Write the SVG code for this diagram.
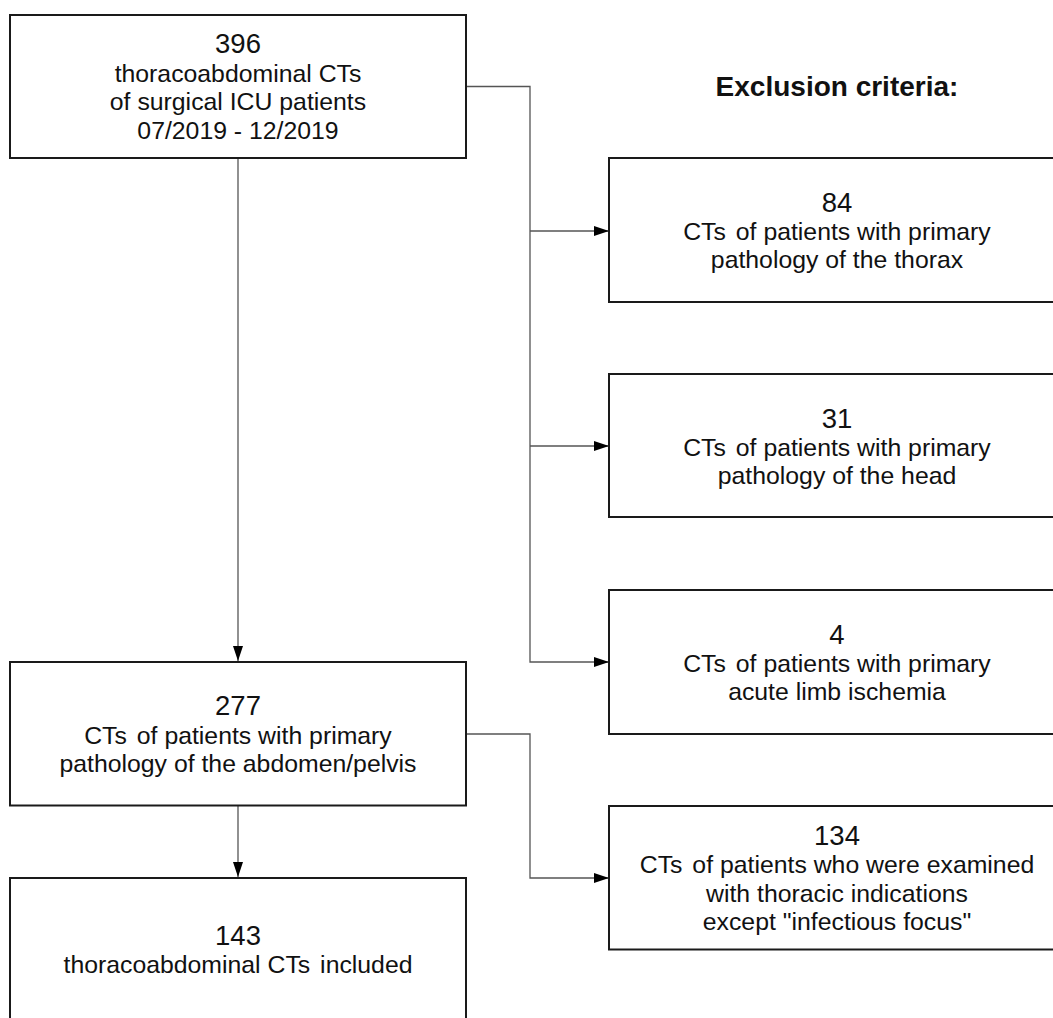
<svg xmlns="http://www.w3.org/2000/svg" width="1053" height="1018" viewBox="0 0 1053 1018">
<style>
.box{fill:#fff;stroke:#1a1a1a;stroke-width:2}
.t{font-family:"Liberation Sans",Arial,sans-serif;font-size:24.8px;fill:#111;text-anchor:middle}
.n{font-size:27.5px}
.h{font-family:"Liberation Sans",Arial,sans-serif;font-size:28px;font-weight:bold;fill:#111;text-anchor:middle}
.c{fill:none;stroke:#555;stroke-width:1.3}
</style>
<defs>
<marker id="ah" markerWidth="15" markerHeight="10" refX="15" refY="5" orient="auto" markerUnits="userSpaceOnUse">
<path d="M0,0 L15,5 L0,10 Z" fill="#000"/>
</marker>
</defs>
<rect width="1053" height="1018" fill="#fff"/>
<g id="connectors">
<path class="c" d="M238,158 V661" marker-end="url(#ah)"/>
<path class="c" d="M466,86.5 H530 V662 H609" marker-end="url(#ah)"/>
<path class="c" d="M530,231 H609" marker-end="url(#ah)"/>
<path class="c" d="M530,446 H609" marker-end="url(#ah)"/>
<path class="c" d="M466,734 H530 V878 H609" marker-end="url(#ah)"/>
<path class="c" d="M238,805 V877" marker-end="url(#ah)"/>
</g>
<text class="h" x="837" y="96">Exclusion criteria:</text>
<g id="n396">
<rect class="box" x="10" y="15" width="456" height="143"/>
<text class="t n" x="238" y="53">396</text>
<text class="t" x="238" y="81.5">thoracoabdominal CTs</text>
<text class="t" x="238" y="110">of surgical ICU patients</text>
<text class="t" x="238" y="138.5">07/2019 - 12/2019</text>
</g>
<g id="n84">
<rect class="box" x="609" y="158" width="456" height="144"/>
<text class="t n" x="837" y="212">84</text>
<text class="t" x="837" y="240">CTs<tspan dx="3"> of patients with primary</tspan></text>
<text class="t" x="837" y="268">pathology of the thorax</text>
</g>
<g id="n31">
<rect class="box" x="609" y="374" width="456" height="143"/>
<text class="t n" x="837" y="428">31</text>
<text class="t" x="837" y="456">CTs<tspan dx="3"> of patients with primary</tspan></text>
<text class="t" x="837" y="484">pathology of the head</text>
</g>
<g id="n4">
<rect class="box" x="609" y="590" width="456" height="144"/>
<text class="t n" x="837" y="643.5">4</text>
<text class="t" x="837" y="671.5">CTs<tspan dx="3"> of patients with primary</tspan></text>
<text class="t" x="837" y="699.5">acute limb ischemia</text>
</g>
<g id="n134">
<rect class="box" x="609" y="806" width="456" height="143.5"/>
<text class="t n" x="837" y="844.5">134</text>
<text class="t" x="837" y="873">CTs<tspan dx="3"> of patients who were examined</tspan></text>
<text class="t" x="837" y="901.5">with thoracic indications</text>
<text class="t" x="837" y="930">except "infectious focus"</text>
</g>
<g id="n277">
<rect class="box" x="10" y="662" width="456" height="143.5"/>
<text class="t n" x="238" y="715">277</text>
<text class="t" x="238" y="743.5">CTs<tspan dx="3"> of patients with primary</tspan></text>
<text class="t" x="238" y="772">pathology of the abdomen/pelvis</text>
</g>
<g id="n143">
<rect class="box" x="10" y="878" width="456" height="150"/>
<text class="t n" x="238" y="945">143</text>
<text class="t" x="238" y="973">thoracoabdominal CTs<tspan dx="3"> included</tspan></text>
</g>
</svg>
